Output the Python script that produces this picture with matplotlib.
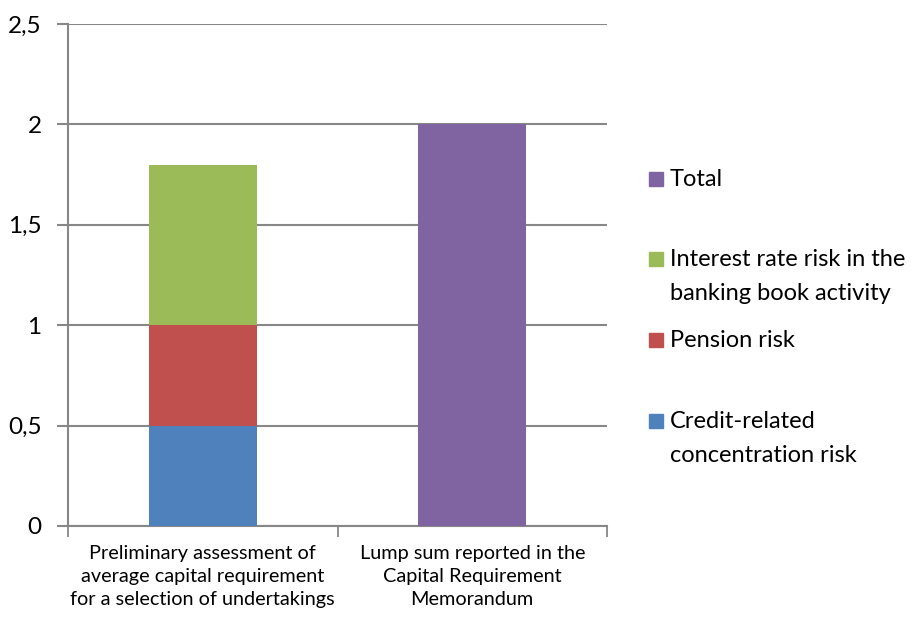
import matplotlib
matplotlib.use("Agg")
import matplotlib.pyplot as plt
from matplotlib.ticker import FuncFormatter, FixedLocator
from matplotlib.patches import Rectangle

plt.rcParams['font.family'] = ['Lato', 'DejaVu Sans']

categories = ["Preliminary assessment of\naverage capital requirement\nfor a selection of undertakings",
              "Lump sum reported in the\nCapital Requirement\nMemorandum"]
credit = [0.5, 0.0]
pension = [0.5, 0.0]
interest = [0.8, 0.0]
total = [0.0, 2.0]
series_names = ["Credit-related\nconcentration risk", "Pension risk",
                "Interest rate risk in the\nbanking book activity", "Total"]
colors = ["#4F81BD", "#C0504D", "#9BBB59", "#8064A2"]
yticks = [0, 0.5, 1, 1.5, 2, 2.5]

fig = plt.figure(figsize=(9.17, 6.17), dpi=100)
ax = fig.add_axes([68/917, 1-526/617, (607-68)/917, (526-24)/617])

x = list(range(len(categories)))
bottoms = [0.0, 0.0]
handles = []
for vals, col in zip([credit, pension, interest, total], colors):
    b = ax.bar(x, vals, width=0.4, bottom=bottoms, color=col, zorder=3)
    handles.append(b)
    bottoms = [bt + v for bt, v in zip(bottoms, vals)]

ax.set_xlim(-0.5, 1.5)
ax.set_ylim(0, 2.5)
ax.set_yticks(yticks)
ax.yaxis.set_major_formatter(FuncFormatter(lambda v, p: ('%g' % v).replace('.', ',')))
ax.grid(axis='y', color='#878787', linewidth=1.5, zorder=0)
ax.set_axisbelow(True)

ax.set_xticks(x)
ax.set_xticklabels(categories, fontsize=14.3, linespacing=1.4)
ax.xaxis.set_minor_locator(FixedLocator([-0.5, 0.5, 1.5]))
ax.tick_params(axis='x', which='major', length=0, pad=14)
ax.tick_params(axis='x', which='minor', length=8, width=1.3, color='#878787')
ax.tick_params(axis='y', length=8, width=1.5, color='#878787', pad=11, labelsize=17.5)

for s in ['top', 'right']:
    ax.spines[s].set_visible(False)
for s in ['left', 'bottom']:
    ax.spines[s].set_color('#878787')
    ax.spines[s].set_linewidth(1.5)

# Legend entries (Excel-style, top to bottom): first-line baseline in pixels
entries = [(3, 186), (2, 266), (1, 347), (0, 428)]
for idx, base in entries:
    yf = 1 - base/617
    sq = 14
    fig.patches.append(Rectangle((649/917, yf), sq/917, sq/617,
                                 transform=fig.transFigure, color=colors[idx]))
    lines = series_names[idx].split("\n")
    for k, line in enumerate(lines):
        fig.text(670/917, yf - k*34/617, line, fontsize=17, va='baseline', ha='left')

fig.savefig("out.png", dpi=100)
